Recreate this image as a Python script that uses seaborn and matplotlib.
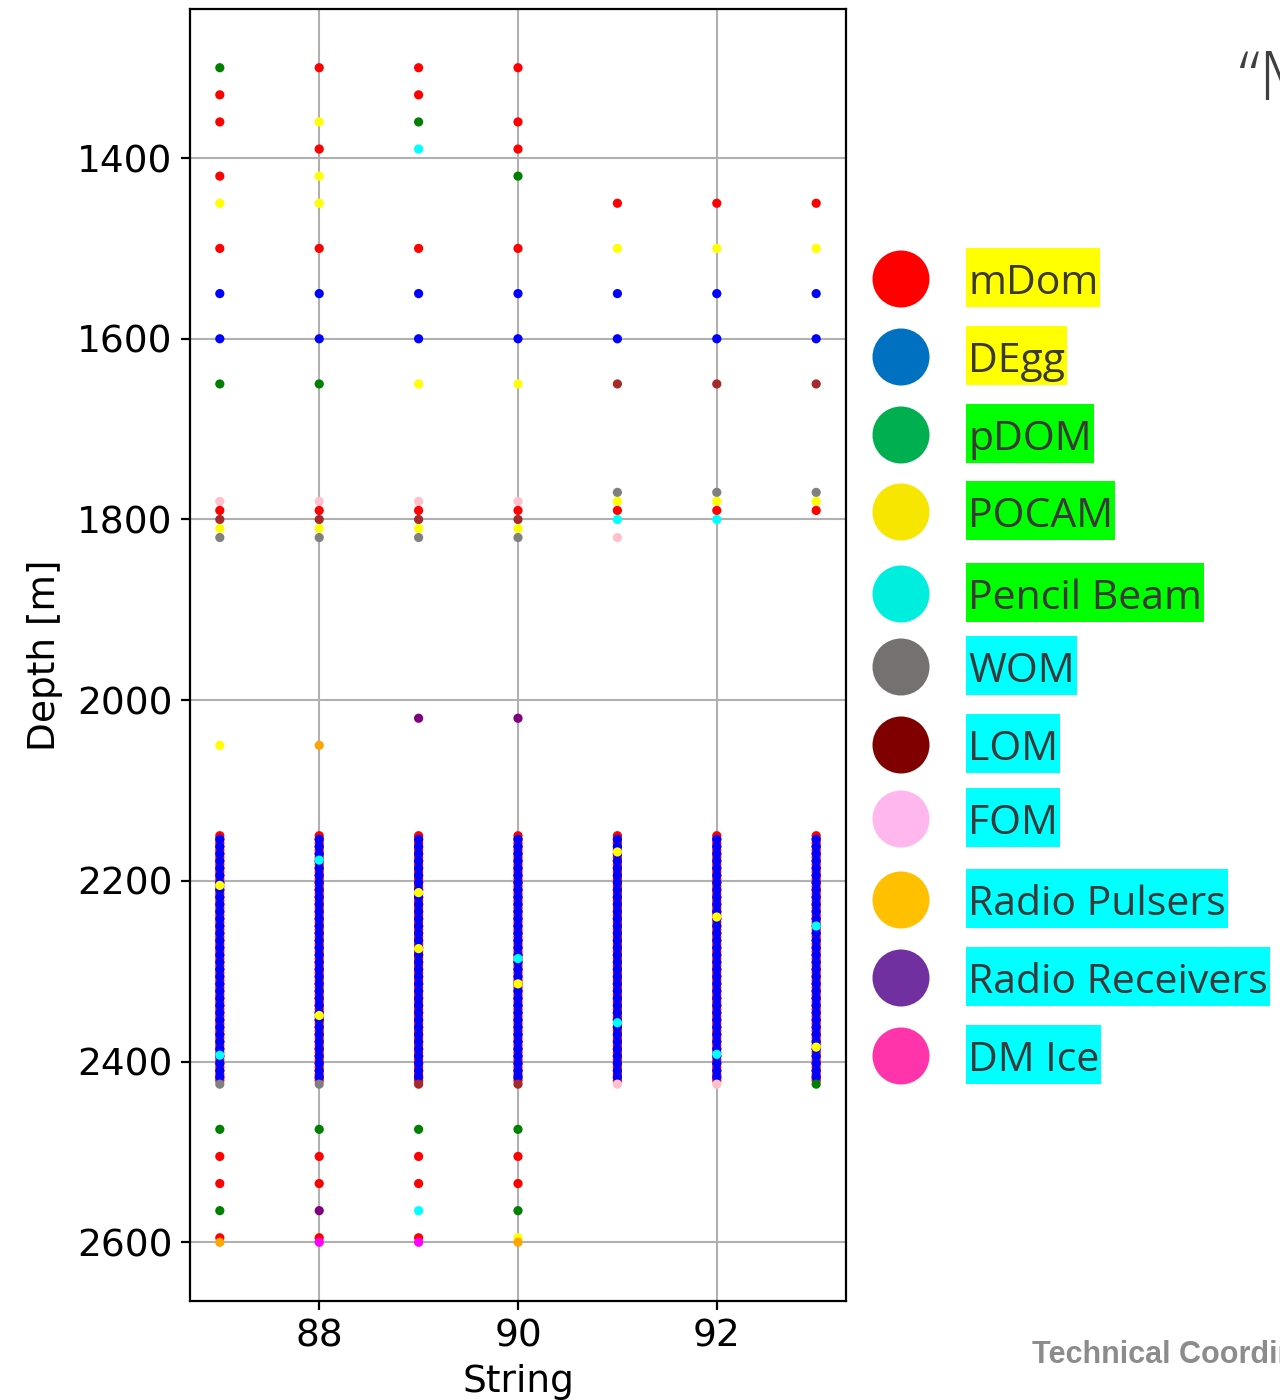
import matplotlib
matplotlib.use("Agg")
import matplotlib.pyplot as plt
from matplotlib.patches import Circle, Rectangle
import pandas as pd
import seaborn as sns

# ---------------------------------------------------------------------------
# Instrument types and their colours in the scatter
# ---------------------------------------------------------------------------
types = ["mDom", "DEgg", "pDOM", "POCAM", "Pencil Beam", "WOM", "LOM", "FOM",
         "Radio Pulsers", "Radio Receivers", "DM Ice"]
scatter_colors = ["red", "blue", "green", "yellow", "cyan", "gray", "brown",
                  "pink", "orange", "purple", "magenta"]

# Legend swatches and label highlight colours
legend_colors = ["#FF0000", "#0070C0", "#00B050", "#F7E600", "#00EEDD",
                 "#767171", "#800000", "#FFB7EE", "#FFC000", "#7030A0",
                 "#FF33AA"]
highlight_colors = ["#FFFF00", "#FFFF00", "#00FF00", "#00FF00", "#00FF00",
                    "#00FFFF", "#00FFFF", "#00FFFF", "#00FFFF", "#00FFFF",
                    "#00FFFF"]

# ---------------------------------------------------------------------------
# Dense mDOM / D-Egg section shared by all seven strings
# ---------------------------------------------------------------------------
strings = [87, 88, 89, 90, 91, 92, 93]
dense_mdom_depth = [2150, 2154, 2158, 2162, 2166, 2170, 2174, 2178, 2182, 2186,
                    2190, 2194, 2198, 2202, 2206, 2210, 2214, 2218, 2222, 2226,
                    2230, 2234, 2238, 2242, 2246, 2250, 2254, 2258, 2262, 2266,
                    2270, 2274, 2278, 2282, 2286, 2290, 2294, 2298, 2302, 2306,
                    2310, 2314, 2318, 2322, 2326, 2330, 2334, 2338, 2342, 2346,
                    2350, 2354, 2358, 2362, 2366, 2370, 2374, 2378, 2382, 2386,
                    2390, 2394, 2398, 2402, 2406, 2410, 2414, 2418, 2421]
dense_degg_depth = [2154, 2162, 2170, 2178, 2186, 2194, 2202, 2210, 2218, 2226,
                    2234, 2242, 2250, 2258, 2266, 2274, 2282, 2290, 2298, 2306,
                    2314, 2322, 2330, 2338, 2346, 2354, 2362, 2370, 2378, 2386,
                    2394, 2402, 2410, 2417]

# ---------------------------------------------------------------------------
# Individual devices per string (depth in m, device type)
# ---------------------------------------------------------------------------
s87_depth = [1300, 1330, 1360, 1420, 1450, 1500, 1550, 1600, 1650, 1780, 1790,
             1800, 1810, 1820, 2050, 2205, 2393, 2425, 2475, 2505, 2535, 2565,
             2595, 2600]
s87_type = ["pDOM", "mDom", "mDom", "mDom", "POCAM", "mDom", "DEgg", "DEgg",
            "pDOM", "FOM", "mDom", "LOM", "POCAM", "WOM", "POCAM", "POCAM",
            "Pencil Beam", "WOM", "pDOM", "mDom", "mDom", "pDOM", "mDom",
            "Radio Pulsers"]

s88_depth = [1300, 1360, 1390, 1420, 1450, 1500, 1550, 1600, 1650, 1780, 1790,
             1800, 1810, 1820, 2050, 2177, 2349, 2425, 2475, 2505, 2535, 2565,
             2595, 2600]
s88_type = ["mDom", "POCAM", "mDom", "POCAM", "POCAM", "mDom", "DEgg", "DEgg",
            "pDOM", "FOM", "mDom", "LOM", "POCAM", "WOM", "Radio Pulsers",
            "Pencil Beam", "POCAM", "WOM", "pDOM", "mDom", "mDom",
            "Radio Receivers", "mDom", "DM Ice"]

s89_depth = [1300, 1330, 1360, 1390, 1500, 1550, 1600, 1650, 1780, 1790, 1800,
             1810, 1820, 2020, 2213, 2275, 2425, 2475, 2505, 2535, 2565, 2595,
             2600]
s89_type = ["mDom", "mDom", "pDOM", "Pencil Beam", "mDom", "DEgg", "DEgg",
            "POCAM", "FOM", "mDom", "LOM", "POCAM", "WOM", "Radio Receivers",
            "POCAM", "POCAM", "LOM", "pDOM", "mDom", "mDom", "Pencil Beam",
            "mDom", "DM Ice"]

s90_depth = [1300, 1360, 1390, 1420, 1500, 1550, 1600, 1650, 1780, 1790, 1800,
             1810, 1820, 2020, 2286, 2314, 2425, 2475, 2505, 2535, 2565, 2595,
             2600]
s90_type = ["mDom", "mDom", "mDom", "pDOM", "mDom", "DEgg", "DEgg", "POCAM",
            "FOM", "mDom", "LOM", "POCAM", "WOM", "Radio Receivers",
            "Pencil Beam", "POCAM", "LOM", "pDOM", "mDom", "mDom", "pDOM",
            "POCAM", "Radio Pulsers"]

s91_depth = [1450, 1500, 1550, 1600, 1650, 1770, 1780, 1790, 1800, 1820, 2168,
             2357, 2425]
s91_type = ["mDom", "POCAM", "DEgg", "DEgg", "LOM", "WOM", "POCAM", "mDom",
            "Pencil Beam", "FOM", "POCAM", "Pencil Beam", "FOM"]

s92_depth = [1450, 1500, 1550, 1600, 1650, 1770, 1780, 1790, 1800, 2240, 2392,
             2425]
s92_type = ["mDom", "POCAM", "DEgg", "DEgg", "LOM", "WOM", "POCAM", "mDom",
            "Pencil Beam", "POCAM", "Pencil Beam", "FOM"]

s93_depth = [1450, 1500, 1550, 1600, 1650, 1770, 1780, 1790, 2250, 2384, 2425]
s93_type = ["mDom", "POCAM", "DEgg", "DEgg", "LOM", "WOM", "POCAM", "mDom",
            "Pencil Beam", "POCAM", "pDOM"]

per_string = {
    87: (s87_depth, s87_type), 88: (s88_depth, s88_type),
    89: (s89_depth, s89_type), 90: (s90_depth, s90_type),
    91: (s91_depth, s91_type), 92: (s92_depth, s92_type),
    93: (s93_depth, s93_type),
}

# ---------------------------------------------------------------------------
# Long-form table: dense section first so the single devices sit on top
# ---------------------------------------------------------------------------
rows = []
for s in strings:
    rows += [(s, d, "mDom") for d in dense_mdom_depth]
    rows += [(s, d, "DEgg") for d in dense_degg_depth]
for s in strings:
    depths, kinds = per_string[s]
    rows += [(s, d, k) for d, k in zip(depths, kinds)]
df = pd.DataFrame(rows, columns=["String", "Depth", "Type"])

# ---------------------------------------------------------------------------
# Figure
# ---------------------------------------------------------------------------
W, H = 1280, 1400
fig = plt.figure(figsize=(W / 100, H / 100), dpi=100)
ax = fig.add_axes([190 / W, 1 - 1301 / H, (846 - 190) / W, (1301 - 9) / H])

sns.scatterplot(data=df, x="String", y="Depth", hue="Type",
                hue_order=types, palette=dict(zip(types, scatter_colors)),
                s=44, linewidth=0, legend=False, ax=ax)

ax.invert_yaxis()
ax.set_xticks([88, 90, 92])
ax.set_yticks([1400, 1600, 1800, 2000, 2200, 2400, 2600])
ax.grid(True, color="#b0b0b0", linewidth=1.5)
ax.set_axisbelow(True)
ax.tick_params(labelsize=27, width=1.6, length=6.5, pad=6)
for sp in ax.spines.values():
    sp.set_linewidth(1.6)
ax.set_xlabel("String", fontsize=27, labelpad=7)
ax.set_ylabel("Depth [m]", fontsize=27, labelpad=10)

# ---------------------------------------------------------------------------
# Legend panel: coloured discs next to highlighted labels (pixel coordinates)
# ---------------------------------------------------------------------------
lax = fig.add_axes([0, 0, 1, 1], zorder=5)
lax.set_xlim(0, W)
lax.set_ylim(H, 0)
lax.axis("off")

row_y = [279, 357, 435, 512, 594, 667, 745, 819, 900, 978, 1056]
renderer = fig.canvas.get_renderer()
for name, disc, hl, yc in zip(types, legend_colors, highlight_colors, row_y):
    lax.add_patch(Circle((901, yc), 28.5, color=disc, lw=0))
    t = lax.text(968, yc + 15, name, fontsize=29.5, family="Open Sans",
                 color="#3A3838", ha="left", va="baseline", zorder=3)
    bb = t.get_window_extent(renderer=renderer)
    lax.add_patch(Rectangle((966, yc + 15 - 46), bb.width + 4, 59,
                            color=hl, lw=0, zorder=2))

# Slide fragments at the right margin
fig.text(1238 / W, 1 - 100 / H, "\u201cM", fontsize=50, family="Open Sans",
         fontweight="light", color="#404040", ha="left", va="baseline")
fig.text(1032 / W, 1 - 1363 / H, "Technical Coordination", fontsize=22,
         family="Liberation Sans", fontweight="bold", color="#8C8C8C",
         ha="left", va="baseline")

fig.savefig("out.png", dpi=100)
